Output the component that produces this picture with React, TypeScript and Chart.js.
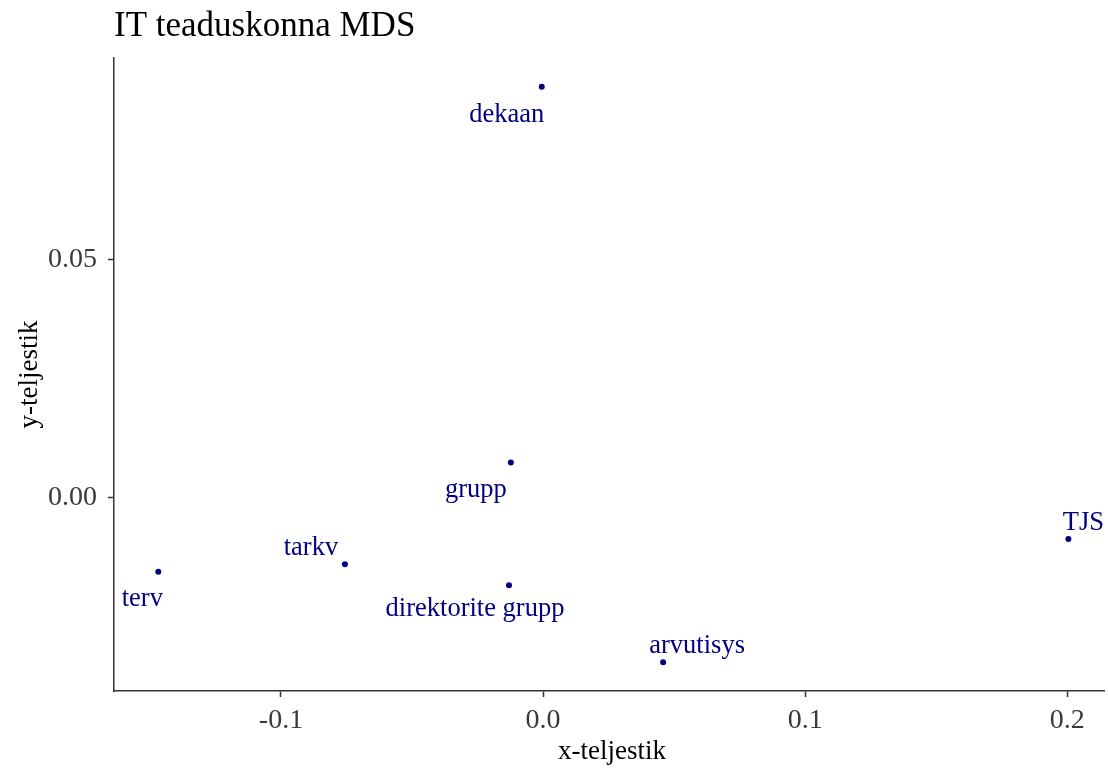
import React, { useEffect, useRef } from "react";
import { Chart, registerables } from "chart.js";

Chart.register(...registerables);

const labels = ["dekaan", "grupp", "tarkv", "terv", "direktorite grupp", "TJS", "arvutisys"];
const xValues = [-0.0005, -0.0123, -0.0756, -0.1468, -0.013, 0.2004, 0.0458];
const yValues = [0.0863, 0.0073, -0.0141, -0.0157, -0.0185, -0.0088, -0.0347];
const xTicks = [-0.1, 0.0, 0.1, 0.2];
const xTickLabels = ["-0.1", "0.0", "0.1", "0.2"];
const yTicks = [0.0, 0.05];
const yTickLabels = ["0.00", "0.05"];

// label offsets in pixels (repel-like placement), relative to the point
const labelDx = [-35, -35, -34, -16, -34, 15, 34];
const labelDy = [35, 34.5, -9, 34, 31, -8.6, -9.6];

const FONT = "'Liberation Serif', 'Times New Roman', serif";

export default function App() {
  const ref = useRef<HTMLCanvasElement | null>(null);
  useEffect(() => {
    if (!ref.current) return;
    const textPlugin = {
      id: "textPlugin",
      afterDatasetsDraw(chart: any) {
        const ctx = chart.ctx;
        const xs = chart.scales.x;
        const ys = chart.scales.y;
        const area = chart.chartArea;
        ctx.save();
        ctx.fillStyle = "#000080";
        ctx.font = `26.5px ${FONT}`;
        ctx.textAlign = "center";
        ctx.textBaseline = "alphabetic";
        labels.forEach((l, i) => {
          const px = xs.getPixelForValue(xValues[i]);
          const py = ys.getPixelForValue(yValues[i]);
          ctx.fillText(l, px + labelDx[i], py + labelDy[i]);
        });
        // title
        ctx.fillStyle = "#000000";
        ctx.textAlign = "left";
        ctx.font = `35px ${FONT}`;
        ctx.fillText("IT teaduskonna MDS", area.left, 36);
        // axis titles
        ctx.font = `27px ${FONT}`;
        ctx.textAlign = "center";
        ctx.textBaseline = "middle";
        ctx.fillText("x-teljestik", 612, 752);
        ctx.save();
        ctx.translate(30, (area.top + area.bottom) / 2);
        ctx.rotate(-Math.PI / 2);
        ctx.fillText("y-teljestik", 0, 0);
        ctx.restore();
        ctx.restore();
      },
    };
    const chart = new Chart(ref.current, {
      type: "scatter",
      data: {
        datasets: [
          {
            data: xValues.map((x, i) => ({ x, y: yValues[i] })),
            backgroundColor: "#000080",
            borderColor: "#000080",
            pointRadius: 3,
            borderWidth: 0,
          },
        ],
      },
      options: {
        animation: false,
        responsive: false,
        layout: { padding: { top: 58, left: 0, right: 0, bottom: 0 } },
        plugins: { legend: { display: false }, tooltip: { enabled: false }, title: { display: false } },
        scales: {
          x: {
            type: "linear",
            min: -0.1637,
            max: 0.214,
            afterBuildTicks: (s: any) => {
              s.ticks = xTicks.map((v) => ({ value: v }));
            },
            afterFit: (s: any) => {
              s.height = 81;
            },
            ticks: {
              callback: (v: any) => {
                const i = xTicks.findIndex((t) => Math.abs(t - v) < 1e-9);
                return i >= 0 ? xTickLabels[i] : "";
              },
              font: { family: FONT, size: 28 },
              color: "#3a3a3a",
              padding: 7,
              maxRotation: 0,
              autoSkip: false,
            },
            grid: { drawOnChartArea: false, drawTicks: true, tickLength: 6, tickColor: "#333333", tickWidth: 1.5 },
            border: { display: true, color: "#333333", width: 1.5 },
          },
          y: {
            type: "linear",
            min: -0.04075,
            max: 0.09235,
            afterBuildTicks: (s: any) => {
              s.ticks = yTicks.map((v) => ({ value: v }));
            },
            afterFit: (s: any) => {
              s.width = 114;
            },
            ticks: {
              callback: (v: any) => {
                const i = yTicks.findIndex((t) => Math.abs(t - v) < 1e-9);
                return i >= 0 ? yTickLabels[i] : "";
              },
              font: { family: FONT, size: 28 },
              color: "#3a3a3a",
              padding: 11,
              autoSkip: false,
            },
            grid: { drawOnChartArea: false, drawTicks: true, tickLength: 6, tickColor: "#333333", tickWidth: 1.5 },
            border: { display: true, color: "#333333", width: 1.5 },
          },
        },
      },
      plugins: [textPlugin],
    } as any);
    return () => chart.destroy();
  }, []);
  return (
    <div style={{ position: "absolute", left: 0, top: 0, width: 1108, height: 772, background: "#fff" }}>
      <canvas ref={ref} width={1108} height={772} style={{ width: 1108, height: 772, display: "block" }} />
    </div>
  );
}
